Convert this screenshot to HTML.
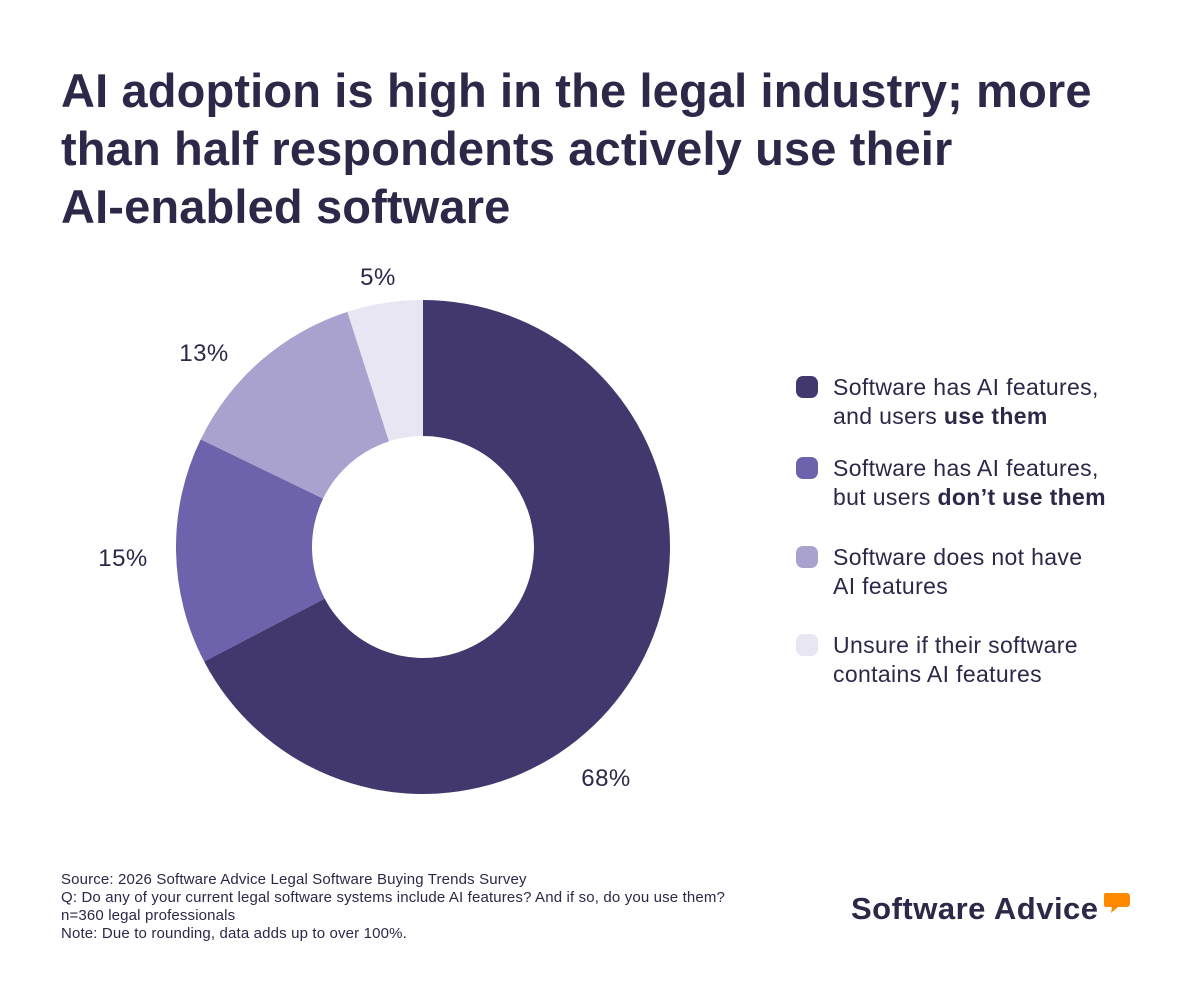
<!DOCTYPE html>
<html><head><meta charset="utf-8"><style>
body{margin:0;width:1200px;height:1000px;background:#fff;font-family:"Liberation Sans",sans-serif;color:#2d2748;position:relative;overflow:hidden}
h1{position:absolute;left:61px;top:62px;margin:0;font-size:47px;line-height:58px;font-weight:bold;color:#2d2748;letter-spacing:0.15px}
.leg{position:absolute;left:796px;font-size:23px;line-height:29px;letter-spacing:0.35px}
.leg .dot{position:absolute;left:0;top:3px;width:22px;height:22px;border-radius:7px}
.leg .t{margin-left:37px;width:330px}
.foot{position:absolute;left:61px;top:871px;font-size:15px;line-height:18px;letter-spacing:0.15px}
.logo{position:absolute;left:851px;top:891px;font-size:31px;font-weight:bold;color:#2d2748;letter-spacing:0.5px}
</style></head><body>
<h1>AI adoption is high in the legal industry; more<br>than half respondents actively use their<br>AI-enabled software</h1>
<svg id="chart" width="1200" height="1000" style="position:absolute;left:0;top:0"></svg>
<div class="leg" style="top:373px"><div class="dot" style="background:#42386d"></div><div class="t">Software has AI features,<br>and users <b>use them</b></div></div>
<div class="leg" style="top:454px"><div class="dot" style="background:#6d62ac"></div><div class="t">Software has AI features,<br>but users <b>don’t use them</b></div></div>
<div class="leg" style="top:543px"><div class="dot" style="background:#a9a2cf"></div><div class="t">Software does not have<br>AI features</div></div>
<div class="leg" style="top:631px"><div class="dot" style="background:#e8e6f3"></div><div class="t">Unsure if their software<br>contains AI features</div></div>
<div class="foot">Source: 2026 Software Advice Legal Software Buying Trends Survey<br>Q: Do any of your current legal software systems include AI features? And if so, do you use them?<br>n=360 legal professionals<br>Note: Due to rounding, data adds up to over 100%.</div>
<div class="logo">Software Advice</div>
<svg width="30" height="24" style="position:absolute;left:1104px;top:893px"><path d="M2 0h21a3 3 0 0 1 3 3v8a3 3 0 0 1-3 3H14l-7 6 1-6H2a2 2 0 0 1-2-2V2a2 2 0 0 1 2-2z" fill="#ff8a00"/></svg>
<script>
const categories=["Use them","Don't use them","No AI features","Unsure"];
const values=[68,15,13,5];
const labels=["68%","15%","13%","5%"];
const colors=["#42386d","#6d62ac","#a9a2cf","#e8e6f3"];
const labelPos=[[606,786],[123,566],[204,361],[378,285]];
const svg=document.getElementById('chart');
const NS="http://www.w3.org/2000/svg";
const cx=423,cy=547,R=247,r=111;
const total=values.reduce((a,b)=>a+b,0);
function pt(a,rad){return [cx+rad*Math.sin(a),cy-rad*Math.cos(a)];}
let a0=0;
values.forEach((v,i)=>{
 const a1=a0+v/total*2*Math.PI;
 const large=(a1-a0)>Math.PI?1:0;
 const [x0,y0]=pt(a0,R),[x1,y1]=pt(a1,R),[x2,y2]=pt(a1,r),[x3,y3]=pt(a0,r);
 const p=document.createElementNS(NS,'path');
 p.setAttribute('d',`M${x0} ${y0}A${R} ${R} 0 ${large} 1 ${x1} ${y1}L${x2} ${y2}A${r} ${r} 0 ${large} 0 ${x3} ${y3}Z`);
 p.setAttribute('fill',colors[i]);
 
 
 svg.appendChild(p);
 const t=document.createElementNS(NS,'text');
 t.setAttribute('x',labelPos[i][0]);t.setAttribute('y',labelPos[i][1]);
 t.setAttribute('text-anchor','middle');
 t.setAttribute('font-size','24');
 t.setAttribute('letter-spacing','0.5');
 t.setAttribute('fill','#2d2748');
 t.setAttribute('font-family','Liberation Sans, sans-serif');
 t.textContent=labels[i];
 
 
 svg.appendChild(t);
 a0=a1;
});
</script>
</body></html>
